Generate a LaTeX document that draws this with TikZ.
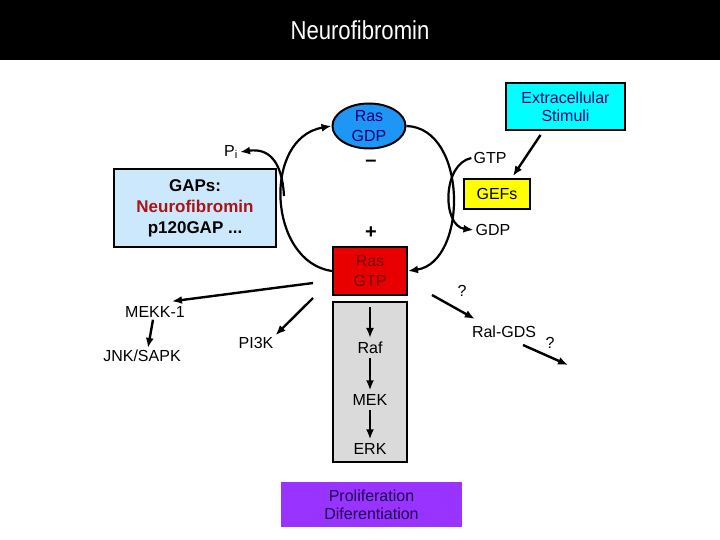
\documentclass[tikz,border=0pt]{standalone}
\usepackage{fontspec}
\setmainfont{Liberation Sans}
\newfontfamily\titlefont[FakeStretch=0.85]{Liberation Sans}
\usetikzlibrary{shapes.geometric,arrows.meta,calc}
\definecolor{gapblue}{RGB}{204,232,252}
\definecolor{gaptxtred}{RGB}{170,20,20}
\definecolor{gdpblue}{RGB}{30,150,245}
\definecolor{navytxt}{RGB}{0,0,120}
\definecolor{gtpred}{RGB}{232,0,0}
\definecolor{gtptxt}{RGB}{120,0,0}
\definecolor{greyfill}{RGB}{218,218,218}
\definecolor{gefyellow}{RGB}{255,255,0}
\definecolor{extcyan}{RGB}{0,255,255}
\definecolor{profpurple}{RGB}{153,51,255}
\definecolor{proftxt}{RGB}{30,0,80}
\tikzset{
  tip/.style={-{Latex[length=10pt,width=8pt]}},
  arr/.style={line width=2.4pt,tip},
  curv/.style={line width=2.2pt,tip},
  lbl/.style={font=\fontsize{16}{18}\selectfont,inner sep=2pt},
  stage/.style={font=\fontsize{16}{18}\selectfont,inner sep=4pt},
  boxed/.style={draw=black,line width=2pt,inner sep=0pt,align=center},
}
\begin{document}
\begin{tikzpicture}[x=1pt,y=-1pt]
\useasboundingbox (0,0) rectangle (720,540);
\fill[black] (0,0) rectangle (720,60);
\node[text=white,font=\titlefont\fontsize{26}{28}\selectfont] (title) at (360,30) {Neurofibromin};

% main boxes
\node[boxed,ellipse,fill=gdpblue,minimum width=73pt,minimum height=45pt,text=navytxt,font=\fontsize{16}{20}\selectfont] (gdp) at (369,126) {Ras\\GDP};
\node[boxed,rectangle,fill=gtpred,minimum width=74pt,minimum height=48pt,text=gtptxt,font=\fontsize{16}{20}\selectfont] (gtp) at (370,271) {Ras\\GTP};
\node[boxed,rectangle,fill=greyfill,minimum width=74pt,minimum height=160pt] (grey) at (370,382) {};
\node[boxed,rectangle,fill=gefyellow,minimum width=66pt,minimum height=30pt,font=\fontsize{16}{18}\selectfont] (gefs) at (497,194) {GEFs};
\node[boxed,rectangle,fill=extcyan,minimum width=119pt,minimum height=47pt,text=navytxt,font=\fontsize{16}{18}\selectfont] (extra) at (565.5,106.5) {Extracellular\\Stimuli};
\node[boxed,rectangle,fill=gapblue,minimum width=162pt,minimum height=78pt,font=\bfseries\fontsize{17}{21}\selectfont] (gaps) at (195,208) {GAPs:\\\textcolor{gaptxtred}{Neurofibromin}\\p120GAP ...};
\node[rectangle,fill=profpurple,minimum width=181pt,minimum height=45pt,inner sep=0pt,align=center,text=proftxt,font=\fontsize{16}{18}\selectfont] (prolif) at (371.5,504.5) {Proliferation\\Diferentiation};

% labels
\node[lbl] (pi) at (231,152) {P\textsubscript{i}};
\node[font=\bfseries\fontsize{20}{20}\selectfont] (minus) at (371,163) {--};
\node[font=\bfseries\fontsize{20}{20}\selectfont] (plus) at (371,233) {+};
\node[lbl] (gtplbl) at (490,158) {GTP};
\node[lbl] (gdplbl) at (493,230) {GDP};
\node[lbl] (q1) at (462,291) {?};
\node[lbl] (ral) at (504,332) {Ral-GDS};
\node[lbl] (q2) at (550,343) {?};
\node[lbl] (mekk) at (155,312) {MEKK-1};
\node[lbl] (jnk) at (142,356) {JNK/SAPK};
\node[lbl] (pi3k) at (256,343) {PI3K};
\node[stage] (raf) at (370,348) {Raf};
\node[stage] (mek) at (370,400) {MEK};
\node[stage] (erk) at (370,449) {ERK};

% coordinates for free ends
\coordinate (pistart) at (284,196);
\coordinate (mekkstart) at (313,283);
\coordinate (pi3kstart) at (313,298);
\coordinate (ralstart) at (432,295);
\coordinate (q2start) at (523,345);
\coordinate (q2end) at (568,365);

% cycle
\draw[curv] (gtp.west) .. controls (268,262) and (262,138) .. (gdp.west);
\draw[curv] (gdp.east) .. controls (468,128) and (468,262) .. (gtp.east);
\draw[curv] (pistart) .. controls (282,160) and (268,148) .. (pi.east);
\draw[curv] (gtplbl.west) .. controls (442,164) and (442,226) .. (gdplbl.west);
\draw[arr] ($(extra.south)+(-25,4)$) -- ($(gefs.north)+(16,-2)$);

% downstream
\draw[arr] (mekkstart) -- ($(mekk.north)+(17,-3)$);
\draw[arr] (pi3kstart) -- (pi3k.north east);
\draw[arr] ($(mekk.south)+(-2,0)$) -- ($(jnk.north)+(6,0)$);
\draw[arr] ($(grey.north)+(0,6)$) -- (raf.north);
\draw[arr] (raf.south) -- (mek.north);
\draw[arr] (mek.south) -- (erk.north);
\draw[arr] (ralstart) -- ($(ral.north west)+(5,-5)$);
\draw[arr] (q2start) -- (q2end);
\end{tikzpicture}
\end{document}
